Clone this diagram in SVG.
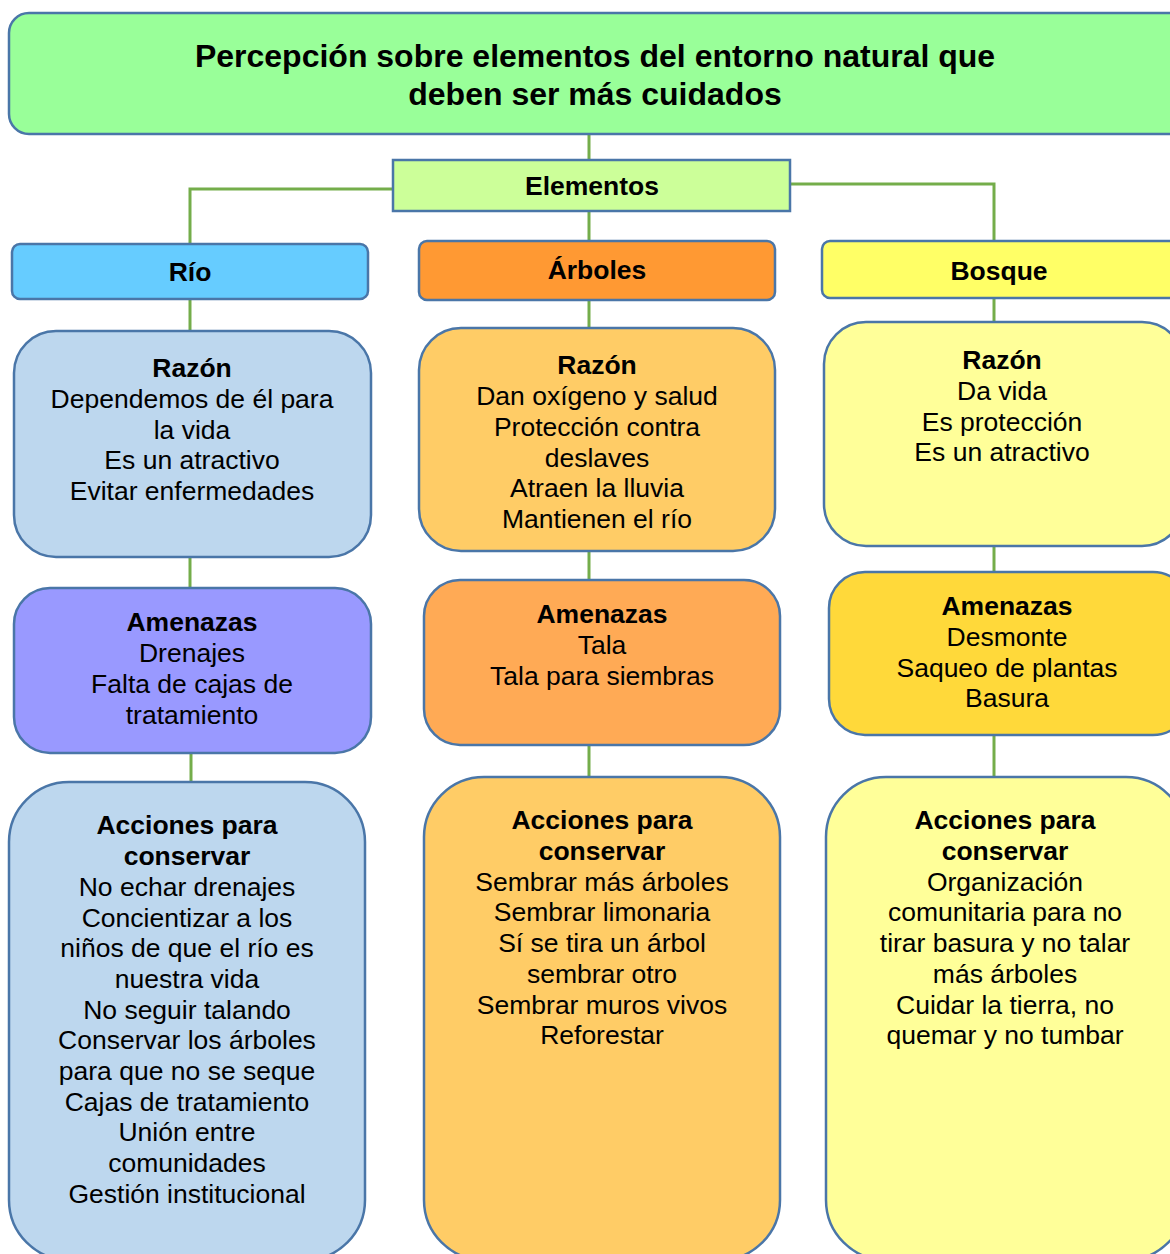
<svg xmlns="http://www.w3.org/2000/svg" width="1170" height="1254" viewBox="0 0 1170 1254">
<style>
.box{stroke:#4A76A8;stroke-width:2.5}
.conn{stroke:#74AD4A;stroke-width:3;fill:none}
text{font-family:"Liberation Sans",Arial,sans-serif;fill:#000;text-anchor:middle}
.t{font-size:32px;font-weight:bold}
.h{font-size:26.5px;font-weight:bold}
.b{font-size:26.5px}
</style>
<rect width="1170" height="1254" fill="#fff"/>
<g id="connectors">
<path class="conn" d="M589 134V160"/>
<path class="conn" d="M393 189H190V244"/>
<path class="conn" d="M790 184H994V241"/>
<path class="conn" d="M589 211V241"/>
<path class="conn" d="M190 299V331"/>
<path class="conn" d="M589 300V328"/>
<path class="conn" d="M994 298V322"/>
<path class="conn" d="M190 557V588"/>
<path class="conn" d="M589 551V580"/>
<path class="conn" d="M994 546V572"/>
<path class="conn" d="M191 753V782"/>
<path class="conn" d="M589 745V777"/>
<path class="conn" d="M994 735V777"/>
</g>
<g id="title">
<rect class="box" x="9" y="13" width="1180" height="121" rx="20" fill="#99FF99"/>
<text class="t" x="595" y="67">Percepción sobre elementos del entorno natural que</text>
<text class="t" x="595" y="105">deben ser más cuidados</text>
</g>
<g id="elementos">
<rect class="box" x="393" y="160" width="397" height="51" fill="#CCFF99"/>
<text class="h" x="592" y="195">Elementos</text>
</g>
<g id="rio">
<rect class="box" x="12" y="244" width="356" height="55" rx="8" fill="#66CCFF"/>
<text class="h" x="190" y="281">Río</text>
</g>
<g id="arboles">
<rect class="box" x="419" y="241" width="356" height="59" rx="8" fill="#FF9933"/>
<text class="h" x="597" y="279">Árboles</text>
</g>
<g id="bosque">
<rect class="box" x="822" y="241" width="360" height="57" rx="8" fill="#FFFF66"/>
<text class="h" x="999" y="280">Bosque</text>
</g>
<g id="rio-razon">
<rect class="box" x="14" y="331" width="357" height="226" rx="42" fill="#BDD7EE"/>
<text class="h" x="192" y="377">Razón</text>
<text class="b" x="192" y="408">Dependemos de él para</text>
<text class="b" x="192" y="439">la vida</text>
<text class="b" x="192" y="469">Es un atractivo</text>
<text class="b" x="192" y="500">Evitar enfermedades</text>
</g>
<g id="arboles-razon">
<rect class="box" x="419" y="328" width="356" height="223" rx="42" fill="#FFCC66"/>
<text class="h" x="597" y="374">Razón</text>
<text class="b" x="597" y="405">Dan oxígeno y salud</text>
<text class="b" x="597" y="436">Protección contra</text>
<text class="b" x="597" y="467">deslaves</text>
<text class="b" x="597" y="497">Atraen la lluvia</text>
<text class="b" x="597" y="528">Mantienen el río</text>
</g>
<g id="bosque-razon">
<rect class="box" x="824" y="322" width="360" height="224" rx="42" fill="#FFFF99"/>
<text class="h" x="1002" y="369">Razón</text>
<text class="b" x="1002" y="400">Da vida</text>
<text class="b" x="1002" y="431">Es protección</text>
<text class="b" x="1002" y="461">Es un atractivo</text>
</g>
<g id="rio-amenazas">
<rect class="box" x="14" y="588" width="357" height="165" rx="36" fill="#9999FF"/>
<text class="h" x="192" y="631">Amenazas</text>
<text class="b" x="192" y="662">Drenajes</text>
<text class="b" x="192" y="693">Falta de cajas de</text>
<text class="b" x="192" y="724">tratamiento</text>
</g>
<g id="arboles-amenazas">
<rect class="box" x="424" y="580" width="356" height="165" rx="36" fill="#FFAA55"/>
<text class="h" x="602" y="623">Amenazas</text>
<text class="b" x="602" y="654">Tala</text>
<text class="b" x="602" y="685">Tala para siembras</text>
</g>
<g id="bosque-amenazas">
<rect class="box" x="829" y="572" width="360" height="163" rx="36" fill="#FFD93A"/>
<text class="h" x="1007" y="615">Amenazas</text>
<text class="b" x="1007" y="646">Desmonte</text>
<text class="b" x="1007" y="677">Saqueo de plantas</text>
<text class="b" x="1007" y="707">Basura</text>
</g>
<g id="rio-acciones">
<rect class="box" x="9" y="782" width="356" height="478" rx="60" fill="#BDD7EE"/>
<text class="h" x="187" y="834">Acciones para</text>
<text class="h" x="187" y="865">conservar</text>
<text class="b" x="187" y="896">No echar drenajes</text>
<text class="b" x="187" y="927">Concientizar a los</text>
<text class="b" x="187" y="957">niños de que el río es</text>
<text class="b" x="187" y="988">nuestra vida</text>
<text class="b" x="187" y="1019">No seguir talando</text>
<text class="b" x="187" y="1049">Conservar los árboles</text>
<text class="b" x="187" y="1080">para que no se seque</text>
<text class="b" x="187" y="1111">Cajas de tratamiento</text>
<text class="b" x="187" y="1141">Unión entre</text>
<text class="b" x="187" y="1172">comunidades</text>
<text class="b" x="187" y="1203">Gestión institucional</text>
</g>
<g id="arboles-acciones">
<rect class="box" x="424" y="777" width="356" height="483" rx="60" fill="#FFCC66"/>
<text class="h" x="602" y="829">Acciones para</text>
<text class="h" x="602" y="860">conservar</text>
<text class="b" x="602" y="891">Sembrar más árboles</text>
<text class="b" x="602" y="921">Sembrar limonaria</text>
<text class="b" x="602" y="952">Sí se tira un árbol</text>
<text class="b" x="602" y="983">sembrar otro</text>
<text class="b" x="602" y="1014">Sembrar muros vivos</text>
<text class="b" x="602" y="1044">Reforestar</text>
</g>
<g id="bosque-acciones">
<rect class="box" x="826" y="777" width="360" height="483" rx="60" fill="#FFFF99"/>
<text class="h" x="1005" y="829">Acciones para</text>
<text class="h" x="1005" y="860">conservar</text>
<text class="b" x="1005" y="891">Organización</text>
<text class="b" x="1005" y="921">comunitaria para no</text>
<text class="b" x="1005" y="952">tirar basura y no talar</text>
<text class="b" x="1005" y="983">más árboles</text>
<text class="b" x="1005" y="1014">Cuidar la tierra, no</text>
<text class="b" x="1005" y="1044">quemar y no tumbar</text>
</g>
</svg>
